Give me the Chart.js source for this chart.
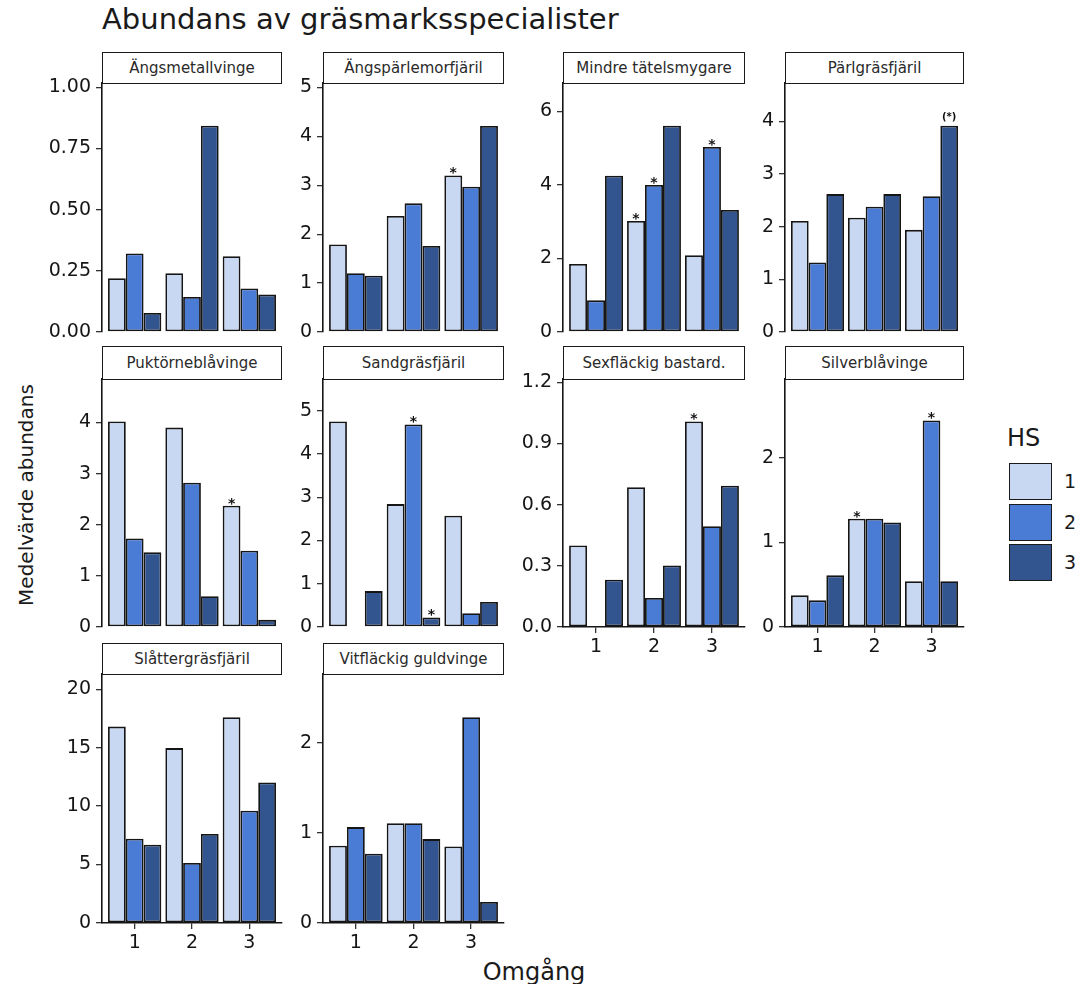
<!DOCTYPE html>
<html>
<head>
<meta charset="utf-8">
<script src="https://cdn.jsdelivr.net/npm/chart.js@4.4.1/dist/chart.umd.min.js"></script>
<style>
  body { margin: 0; background: #fff; }
  #page { position: relative; width: 1085px; height: 984px; overflow: hidden;
          font-family: "DejaVu Sans", sans-serif; color: #1a1a1a; }
  .box { position: absolute; }
  .strip { position: absolute; box-sizing: border-box; border: 1.5px solid #1a1a1a; background: #fff;
           font-size: 15px; color: #2a2a2a; display: flex; align-items: center; justify-content: center;
           white-space: nowrap; }
  .txt { position: absolute; white-space: nowrap; }
  .key { position: absolute; box-sizing: border-box; border: 1.6px solid #1a1a1a; width: 43px; height: 37px; }
</style>
</head>
<body>
<div id="page">
  <div class="txt" style="left:102px; top:5px; font-size:29px; line-height:29px;">Abundans av gräsmarksspecialister</div>
  <div class="txt" style="left:-124px; top:483px; width:300px; height:24px; line-height:24px; font-size:20px; text-align:center; transform:rotate(-90deg);">Medelvärde abundans</div>
  <div class="txt" style="left:434px; top:958px; width:200px; line-height:28px; font-size:24px; text-align:center;">Omgång</div>
  <div id="legend"></div>
</div>
<script>
  // species (facets) and rounds (Omgång)
  const species = [
    "Ängsmetallvinge", "Ängspärlemorfjäril", "Mindre tätelsmygare", "Pärlgräsfjäril",
    "Puktörneblåvinge", "Sandgräsfjäril", "Sexfläckig bastard.", "Silverblåvinge",
    "Slåttergräsfjäril", "Vitfläckig guldvinge",
  ];
  const rounds = [1, 2, 3];
  const hsLabels = ["1", "2", "3"];

  // mean abundance per species, for rounds 1..3
  const hs1 = [
    [0.22, 0.24, 0.31],
    [1.79, 2.37, 3.2],
    [1.85, 3.02, 2.09],
    [2.11, 2.17, 1.94],
    [4.02, 3.9, 2.37],
    [4.75, 2.84, 2.57],
    [0.4, 0.685, 1.008],
    [0.374, 1.28, 0.54],
    [16.8, 14.96, 17.6],
    [0.856, 1.107, 0.849],
  ];
  const hs2 = [
    [0.321, 0.143, 0.178],
    [1.2, 2.63, 2.97],
    [0.86, 4.0, 5.03],
    [1.32, 2.38, 2.58],
    [1.73, 2.82, 1.49],
    [0.02, 4.68, 0.32],
    [0, 0.142, 0.494],
    [0.315, 1.28, 2.44],
    [7.21, 5.13, 9.6],
    [1.063, 1.107, 2.28],
  ];
  const hs3 = [
    [0.078, 0.843, 0.153],
    [1.15, 1.76, 4.21],
    [4.25, 5.61, 3.32],
    [2.62, 2.62, 3.92],
    [1.46, 0.6, 0.14],
    [0.83, 0.22, 0.58],
    [0.232, 0.302, 0.693],
    [0.61, 1.236, 0.54],
    [6.7, 7.61, 12.02],
    [0.768, 0.93, 0.232],
  ];

  const yMax = [1.018, 5.09, 6.77, 4.73, 4.85, 5.73, 1.216, 2.93, 21.3, 2.76];
  const yTicks = [
    ["0.00", "0.25", "0.50", "0.75", "1.00"],
    ["0", "1", "2", "3", "4", "5"],
    ["0", "2", "4", "6"],
    ["0", "1", "2", "3", "4"],
    ["0", "1", "2", "3", "4"],
    ["0", "1", "2", "3", "4", "5"],
    ["0.0", "0.3", "0.6", "0.9", "1.2"],
    ["0", "1", "2"],
    ["0", "5", "10", "15", "20"],
    ["0", "1", "2"],
  ];

  // significance marks: panel, round index, HS index
  const stars = [
    { panel: 1, round: 2, hs: 0, text: "*" },
    { panel: 2, round: 1, hs: 0, text: "*" },
    { panel: 2, round: 1, hs: 1, text: "*" },
    { panel: 2, round: 2, hs: 1, text: "*" },
    { panel: 3, round: 2, hs: 2, text: "(*)" },
    { panel: 4, round: 2, hs: 0, text: "*" },
    { panel: 5, round: 1, hs: 1, text: "*" },
    { panel: 5, round: 1, hs: 2, text: "*" },
    { panel: 6, round: 2, hs: 0, text: "*" },
    { panel: 7, round: 1, hs: 0, text: "*" },
    { panel: 7, round: 2, hs: 1, text: "*" },
  ];

  const hsColors = ["#c9d8f2", "#4a7bd5", "#33558f"];
  const font = '"DejaVu Sans", sans-serif';
  const ink = "#151515";

  const colLeft = [102, 323, 563, 785];
  const colRight = [282, 504, 745, 964];
  const rowStripTop = [52, 346, 643];
  const rowPlotTop = [83, 379, 674];
  const rowAxis = [332, 627, 923];
  const Y_W = 66, X_H = 34, PAD_R = 8;

  const page = document.getElementById("page");

  const starPlugin = {
    id: "stars",
    afterDatasetsDraw(chart, args, opts) {
      const ctx = chart.ctx;
      ctx.save();
      ctx.fillStyle = "#111";
      ctx.textAlign = "center";
      ctx.textBaseline = "alphabetic";
      stars.forEach((s) => {
        if (s.panel !== opts.panel) return;
        const bar = chart.getDatasetMeta(s.hs).data[s.round];
        const small = s.text.length > 1;
        ctx.font = (small ? "bold 10px " : "bold 14px ") + font;
        ctx.fillText(s.text, bar.x, bar.y + (small ? -6 : 2));
      });
      ctx.restore();
    },
  };

  species.forEach((name, i) => {
    const c = i % 4;
    const r = Math.floor(i / 4);
    // bottom panel of each column gets the x axis
    const hasX = i + 4 >= species.length;

    const wrap = document.createElement("div");
    wrap.className = "box";
    wrap.style.left = colLeft[c] - Y_W + "px";
    wrap.style.top = rowStripTop[r] + "px";
    wrap.style.width = Y_W + (colRight[c] - colLeft[c]) + PAD_R + "px";
    wrap.style.height = rowAxis[r] - rowStripTop[r] + X_H + "px";
    const canvas = document.createElement("canvas");
    wrap.appendChild(canvas);
    page.appendChild(wrap);

    new Chart(canvas, {
      type: "bar",
      data: {
        datasets: [hs1, hs2, hs3].map((vals, h) => ({
          label: hsLabels[h],
          data: rounds.map((rd, k) => ({ x: rd, y: vals[i][k] })),
          backgroundColor: hsColors[h],
          borderColor: ink,
          borderWidth: 1.8,
          borderSkipped: false,
          categoryPercentage: 0.93,
          barPercentage: 1,
        })),
      },
      options: {
        responsive: true,
        maintainAspectRatio: false,
        animation: false,
        layout: { padding: { top: rowPlotTop[r] - rowStripTop[r], right: PAD_R, left: 0, bottom: 0 } },
        scales: {
          x: {
            type: "linear",
            min: 0.43,
            max: 3.57,
            offset: false,
            afterBuildTicks: (s) => { s.ticks = rounds.map((v) => ({ value: v })); },
            afterFit: (s) => { s.height = X_H; },
            grid: { display: hasX, offset: false, drawOnChartArea: false, tickLength: 6, color: "#333", lineWidth: 1.3 },
            border: { display: hasX, color: ink, width: 1.6 },
            ticks: { display: hasX, padding: 3, color: ink, font: { family: font, size: 19 }, callback: (v) => String(v) },
          },
          y: {
            min: 0,
            max: yMax[i],
            afterBuildTicks: (s) => { s.ticks = yTicks[i].map((t) => ({ value: Number(t) })); },
            afterFit: (s) => { s.width = Y_W; },
            grid: { drawOnChartArea: false, tickLength: 6, color: "#333", lineWidth: 1.3 },
            border: { color: ink, width: 1.6 },
            ticks: { padding: 5, color: ink, font: { family: font, size: 19 }, callback: (v, idx) => yTicks[i][idx] },
          },
        },
        plugins: {
          legend: { display: false },
          tooltip: { enabled: false },
          stars: { panel: i },
        },
      },
      plugins: [starPlugin],
    });

    const strip = document.createElement("div");
    strip.className = "strip";
    strip.style.left = colLeft[c] + "px";
    strip.style.top = rowStripTop[r] + "px";
    strip.style.width = colRight[c] - colLeft[c] + "px";
    strip.style.height = rowPlotTop[r] - rowStripTop[r] + 1 + "px";
    strip.textContent = name;
    page.appendChild(strip);
  });

  // legend
  const legend = document.getElementById("legend");
  const hsTitle = document.createElement("div");
  hsTitle.className = "txt";
  hsTitle.style.cssText = "left:1007px; top:424px; font-size:24px; line-height:28px;";
  hsTitle.textContent = "HS";
  legend.appendChild(hsTitle);
  const keyTops = [463, 504, 544];
  hsLabels.forEach((lab, h) => {
    const key = document.createElement("div");
    key.className = "key";
    key.style.left = "1009px";
    key.style.top = keyTops[h] + "px";
    key.style.background = hsColors[h];
    legend.appendChild(key);
    const t = document.createElement("div");
    t.className = "txt";
    t.style.cssText = "left:1064px; font-size:19px; line-height:24px; top:" + (keyTops[h] + 6) + "px;";
    t.textContent = lab;
    legend.appendChild(t);
  });
</script>
</body>
</html>
